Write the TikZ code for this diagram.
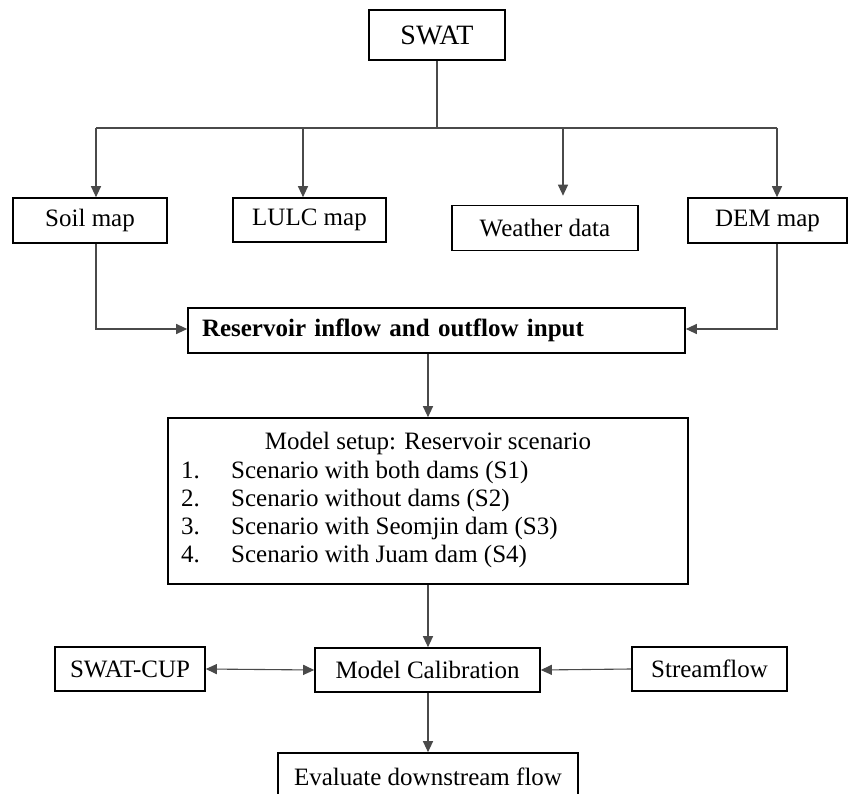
\documentclass[tikz,border=0pt]{standalone}
\usepackage{fontspec}
\setmainfont{Liberation Serif}
\usetikzlibrary{arrows.meta,calc}
\definecolor{linegray}{HTML}{4A4A4A}
\tikzset{
  box/.style={draw=black, line width=1.6pt, inner sep=0pt, align=center,
              font=\fontsize{25}{30}\selectfont},
  arr/.style={draw=linegray, line width=1.1pt, -{Triangle[length=11pt,width=10pt]}},
  darr/.style={draw=linegray, line width=1.1pt, {Triangle[length=11pt,width=10pt]}-{Triangle[length=11pt,width=10pt]}},
  conn/.style={draw=linegray, line width=1.1pt},
  itemtxt/.style={inner sep=0pt, anchor=west, text height=17pt, text depth=6pt,
                  font=\fontsize{25}{30}\selectfont},
}
\begin{document}
\begin{tikzpicture}[x=1pt,y=-1pt]
\useasboundingbox (0,0) rectangle (849,794);

% boxes
\node[box, minimum width=136, minimum height=50, font=\fontsize{28}{32}\selectfont] (swat) at (437,35) {SWAT};
\node[box, minimum width=154, minimum height=45] (soil) at (90,220.5) {Soil map};
\node[box, minimum width=153, minimum height=44] (lulc) at (309.5,220) {LULC map};
\node[box, minimum width=186, minimum height=45] (weather) at (545,228) {Weather data};
\node[box, minimum width=159, minimum height=45] (dem) at (767.5,220.5) {DEM map};
\node[box, text width=469, inner xsep=14, minimum height=45, align=left,
      font=\fontsize{25}{30}\selectfont\bfseries] (res) at (436.5,330.5) {Reservoir inflow and outflow input};

\node[box, minimum width=520, minimum height=166] (ms) at (428,501) {};
\node[itemtxt, anchor=center] (mstitle) at (428,444) {Model setup: Reservoir scenario};
\node[itemtxt] (n1) at (181,473) {1.};
\node[itemtxt] (t1) at (231,473) {Scenario with both dams (S1)};
\node[itemtxt] (n2) at (181,501) {2.};
\node[itemtxt] (t2) at (231,501) {Scenario without dams (S2)};
\node[itemtxt] (n3) at (181,529) {3.};
\node[itemtxt] (t3) at (231,529) {Scenario with Seomjin dam (S3)};
\node[itemtxt] (n4) at (181,557) {4.};
\node[itemtxt] (t4) at (231,557) {Scenario with Juam dam (S4)};

\node[box, minimum width=150, minimum height=44] (cup) at (130,669) {SWAT-CUP};
\node[box, minimum width=225, minimum height=44] (calib) at (427.5,670) {Model Calibration};
\node[box, minimum width=155, minimum height=44] (stream) at (709.5,669) {Streamflow};
\node[box, minimum width=300, minimum height=48] (eval) at (428,777) {Evaluate downstream flow};

% connector coordinates
\coordinate (j) at (437,128);
\coordinate (jl) at (96,128);
\coordinate (jlulc) at (303,128);
\coordinate (jw) at (563,128);
\coordinate (jr) at (777,128);
\coordinate (xm) at (428,0);

\draw[conn] (swat.south) -- (j);
\draw[conn] (jl) -- (jr);
\draw[arr] (jl) -- (jl |- soil.north);
\draw[arr] (jlulc) -- (jlulc |- lulc.north);
\draw[arr, shorten >=9pt] (jw) -- (jw |- weather.north);
\draw[arr] (jr) -- (jr |- dem.north);

\draw[arr] (soil.south -| jl) |- ([yshift=1.5]res.west);
\draw[arr] (dem.south -| jr) |- ([yshift=1.5]res.east);
\draw[arr] (res.south -| xm) -- (ms.north -| xm);
\draw[arr] (ms.south -| xm) -- (calib.north -| xm);
\draw[darr] (cup.east) -- (calib.west);
\draw[arr] (stream.west) -- (calib.east);
\draw[arr] (calib.south -| xm) -- (eval.north -| xm);
\end{tikzpicture}
\end{document}
